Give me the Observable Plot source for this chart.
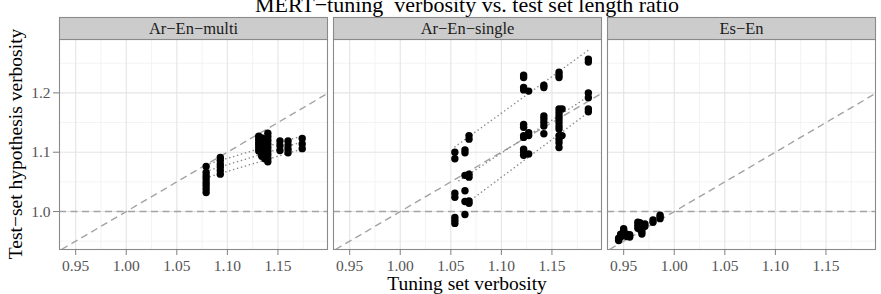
<!DOCTYPE html>
<html>
<head>
<meta charset="utf-8">
<script src="https://cdn.jsdelivr.net/npm/d3@7"></script>
<script src="https://cdn.jsdelivr.net/npm/@observablehq/plot@0.6"></script>
<style>
  body { margin: 0; background: #fff; }
  svg { display: block; }
</style>
</head>
<body>
<div id="chart"></div>
<script>
// Facet panels (language pair / tuning setup)
const facets = ["Ar−En−multi", "Ar−En−single", "Es−En"];

// Each entry: [tuning-set verbosity, [test-set hypothesis verbosities of the runs]]
const multiCols = [
  [1.079, [1.076, 1.066, 1.060, 1.055, 1.049, 1.044, 1.038, 1.032]],
  [1.093, [1.091, 1.086, 1.080, 1.075, 1.069, 1.063]],
  [1.131, [1.127, 1.122, 1.117, 1.112, 1.107, 1.102]],
  [1.134, [1.124, 1.118, 1.113, 1.108, 1.103, 1.098, 1.093]],
  [1.137, [1.121, 1.115, 1.109, 1.104, 1.099, 1.094, 1.089]],
  [1.140, [1.132, 1.126, 1.120, 1.114, 1.108, 1.102, 1.096, 1.090, 1.084]],
  [1.152, [1.119, 1.111, 1.103]],
  [1.160, [1.119, 1.112, 1.105, 1.099]],
  [1.174, [1.123, 1.114, 1.106]]
];
const singleCols = [
  [1.054, [1.100, 1.089, 1.031, 1.024, 0.990, 0.985, 0.980]],
  [1.064, [1.104, 1.099, 1.061, 1.035, 1.017, 0.995]],
  [1.068, [1.128, 1.122, 1.063, 1.058, 1.018, 1.014]],
  [1.122, [1.230, 1.226, 1.209, 1.205, 1.147, 1.142, 1.128, 1.125, 1.105, 1.100, 1.095]],
  [1.127, [1.203, 1.133, 1.128, 1.097]],
  [1.142, [1.213, 1.209, 1.161, 1.156, 1.150, 1.144, 1.131]],
  [1.157, [1.235, 1.230, 1.226, 1.173, 1.167, 1.161, 1.156, 1.150, 1.144, 1.139, 1.128, 1.122, 1.116, 1.108]],
  [1.160, [1.173, 1.128]],
  [1.186, [1.257, 1.252, 1.200, 1.192, 1.173, 1.168]]
];
const esCols = [
  [0.945, [0.951, 0.955]],
  [0.947, [0.957, 0.962]],
  [0.950, [0.963, 0.968, 0.971]],
  [0.953, [0.958, 0.962]],
  [0.956, [0.957, 0.961]],
  [0.964, [0.972, 0.977, 0.982]],
  [0.966, [0.970, 0.975, 0.981]],
  [0.968, [0.962, 0.966, 0.971, 0.976]],
  [0.971, [0.975, 0.979]],
  [0.979, [0.982, 0.986]],
  [0.986, [0.988, 0.991, 0.994]]
];

// Per-test-set linear trends: [x start, y start, x end, y end]
const multiFits = [
  [1.079, 1.079, 1.175, 1.128],
  [1.079, 1.068, 1.175, 1.118],
  [1.079, 1.057, 1.175, 1.106]
];
const singleFits = [
  [1.054, 1.109, 1.186, 1.272],
  [1.058, 1.052, 1.186, 1.194],
  [1.064, 1.012, 1.186, 1.167]
];

// Axes
const xDomain = [0.934, 1.199];
const yDomain = [0.936, 1.290];
const xTicks = [0.95, 1.00, 1.05, 1.10, 1.15];
const xMinor = [0.975, 1.025, 1.075, 1.125, 1.175];
const yTicks = [1.0, 1.1, 1.2];
const yMinor = [0.95, 1.05, 1.15, 1.25];

const points = [];
[[facets[0], multiCols], [facets[1], singleCols], [facets[2], esCols]].forEach(([panel, cols]) => {
  cols.forEach(([x, ys]) => ys.forEach(y => points.push({panel, x, y})));
});
const fits = [
  ...multiFits.map(([x1, y1, x2, y2]) => ({panel: facets[0], x1, y1, x2, y2})),
  ...singleFits.map(([x1, y1, x2, y2]) => ({panel: facets[1], x1, y1, x2, y2}))
];
// y = x reference across the visible range
const lo = Math.max(xDomain[0], yDomain[0]);
const hi = Math.min(xDomain[1], yDomain[1]);
const identity = [{x1: lo, y1: lo, x2: hi, y2: hi}];

const W = 881, H = 294;
const M = {top: 39, right: 6, bottom: 45, left: 59};
const gap = 6;
const panelW = (W - M.left - M.right - 2 * gap) / 3;
const panelH = H - M.top - M.bottom;
const stripH = 22;
const serif = "'Liberation Serif', 'DejaVu Serif', serif";

const chart = Plot.plot({
  width: W,
  height: H,
  marginTop: M.top,
  marginRight: M.right,
  marginBottom: M.bottom,
  marginLeft: M.left,
  style: {fontFamily: serif, fontSize: "15.5px", color: "#555", background: "white", overflow: "visible"},
  fx: {domain: facets, paddingInner: gap / (panelW + gap), paddingOuter: 0, axis: null},
  x: {domain: xDomain},
  y: {domain: yDomain},
  marks: [
    Plot.gridX({ticks: xMinor, stroke: "#f3f3f3", strokeOpacity: 1, strokeWidth: 1}),
    Plot.gridY({ticks: yMinor, stroke: "#f3f3f3", strokeOpacity: 1, strokeWidth: 1}),
    Plot.gridX({ticks: xTicks, stroke: "#e4e4e4", strokeOpacity: 1, strokeWidth: 1.1}),
    Plot.gridY({ticks: yTicks, stroke: "#e4e4e4", strokeOpacity: 1, strokeWidth: 1.1}),
    Plot.ruleY([1], {stroke: "#a3a3a3", strokeWidth: 1.4, strokeDasharray: "7,4.5"}),
    Plot.link(identity, {x1: "x1", y1: "y1", x2: "x2", y2: "y2", stroke: "#a3a3a3", strokeWidth: 1.4, strokeDasharray: "7,4.5"}),
    Plot.link(fits, {fx: "panel", x1: "x1", y1: "y1", x2: "x2", y2: "y2", stroke: "#8a8a8a", strokeWidth: 1.5, strokeDasharray: "0.1,4", strokeLinecap: "round"}),
    Plot.dot(points, {fx: "panel", x: "x", y: "y", r: 3.7, fill: "black", stroke: "none"}),
    Plot.frame({stroke: "#8a8a8a", strokeWidth: 1.1}),
    Plot.frame({fill: "#cccccc", stroke: "#8a8a8a", strokeWidth: 1.1, insetTop: -stripH, insetBottom: panelH}),
    Plot.text(facets, {fx: d => d, text: d => d, frameAnchor: "top", lineAnchor: "middle", dy: -stripH / 2, fill: "#1a1a1a", fontSize: 16.5, fontFamily: serif}),
    Plot.axisX({ticks: xTicks, tickFormat: d3.format(".2f"), tickSize: 6, tickPadding: 4, label: null, stroke: "#7f7f7f", fontFamily: serif}),
    Plot.axisY({ticks: yTicks, tickFormat: d3.format(".1f"), tickSize: 6, tickPadding: 3, label: null, stroke: "#7f7f7f", fontFamily: serif})
  ]
});

// Overall title and shared axis titles
const svg = d3.select(chart);
const cx = M.left + (W - M.left - M.right) / 2;
svg.append("text")
  .attr("x", cx).attr("y", 11.5)
  .attr("text-anchor", "middle")
  .attr("font-size", 22)
  .attr("fill", "black")
  .style("white-space", "pre")
  .text("MERT−tuning  verbosity vs. test set length ratio");
svg.append("text")
  .attr("x", cx).attr("y", 290)
  .attr("text-anchor", "middle")
  .attr("font-size", 19.5)
  .attr("fill", "black")
  .text("Tuning set verbosity");
svg.append("text")
  .attr("transform", `translate(22,${M.top + panelH / 2}) rotate(-90)`)
  .attr("text-anchor", "middle")
  .attr("font-size", 19.5)
  .attr("fill", "black")
  .text("Test−set hypothesis verbosity");

// Every label in the serif face
svg.selectAll("text").style("font-family", serif);

document.getElementById("chart").appendChild(chart);
</script>
</body>
</html>
